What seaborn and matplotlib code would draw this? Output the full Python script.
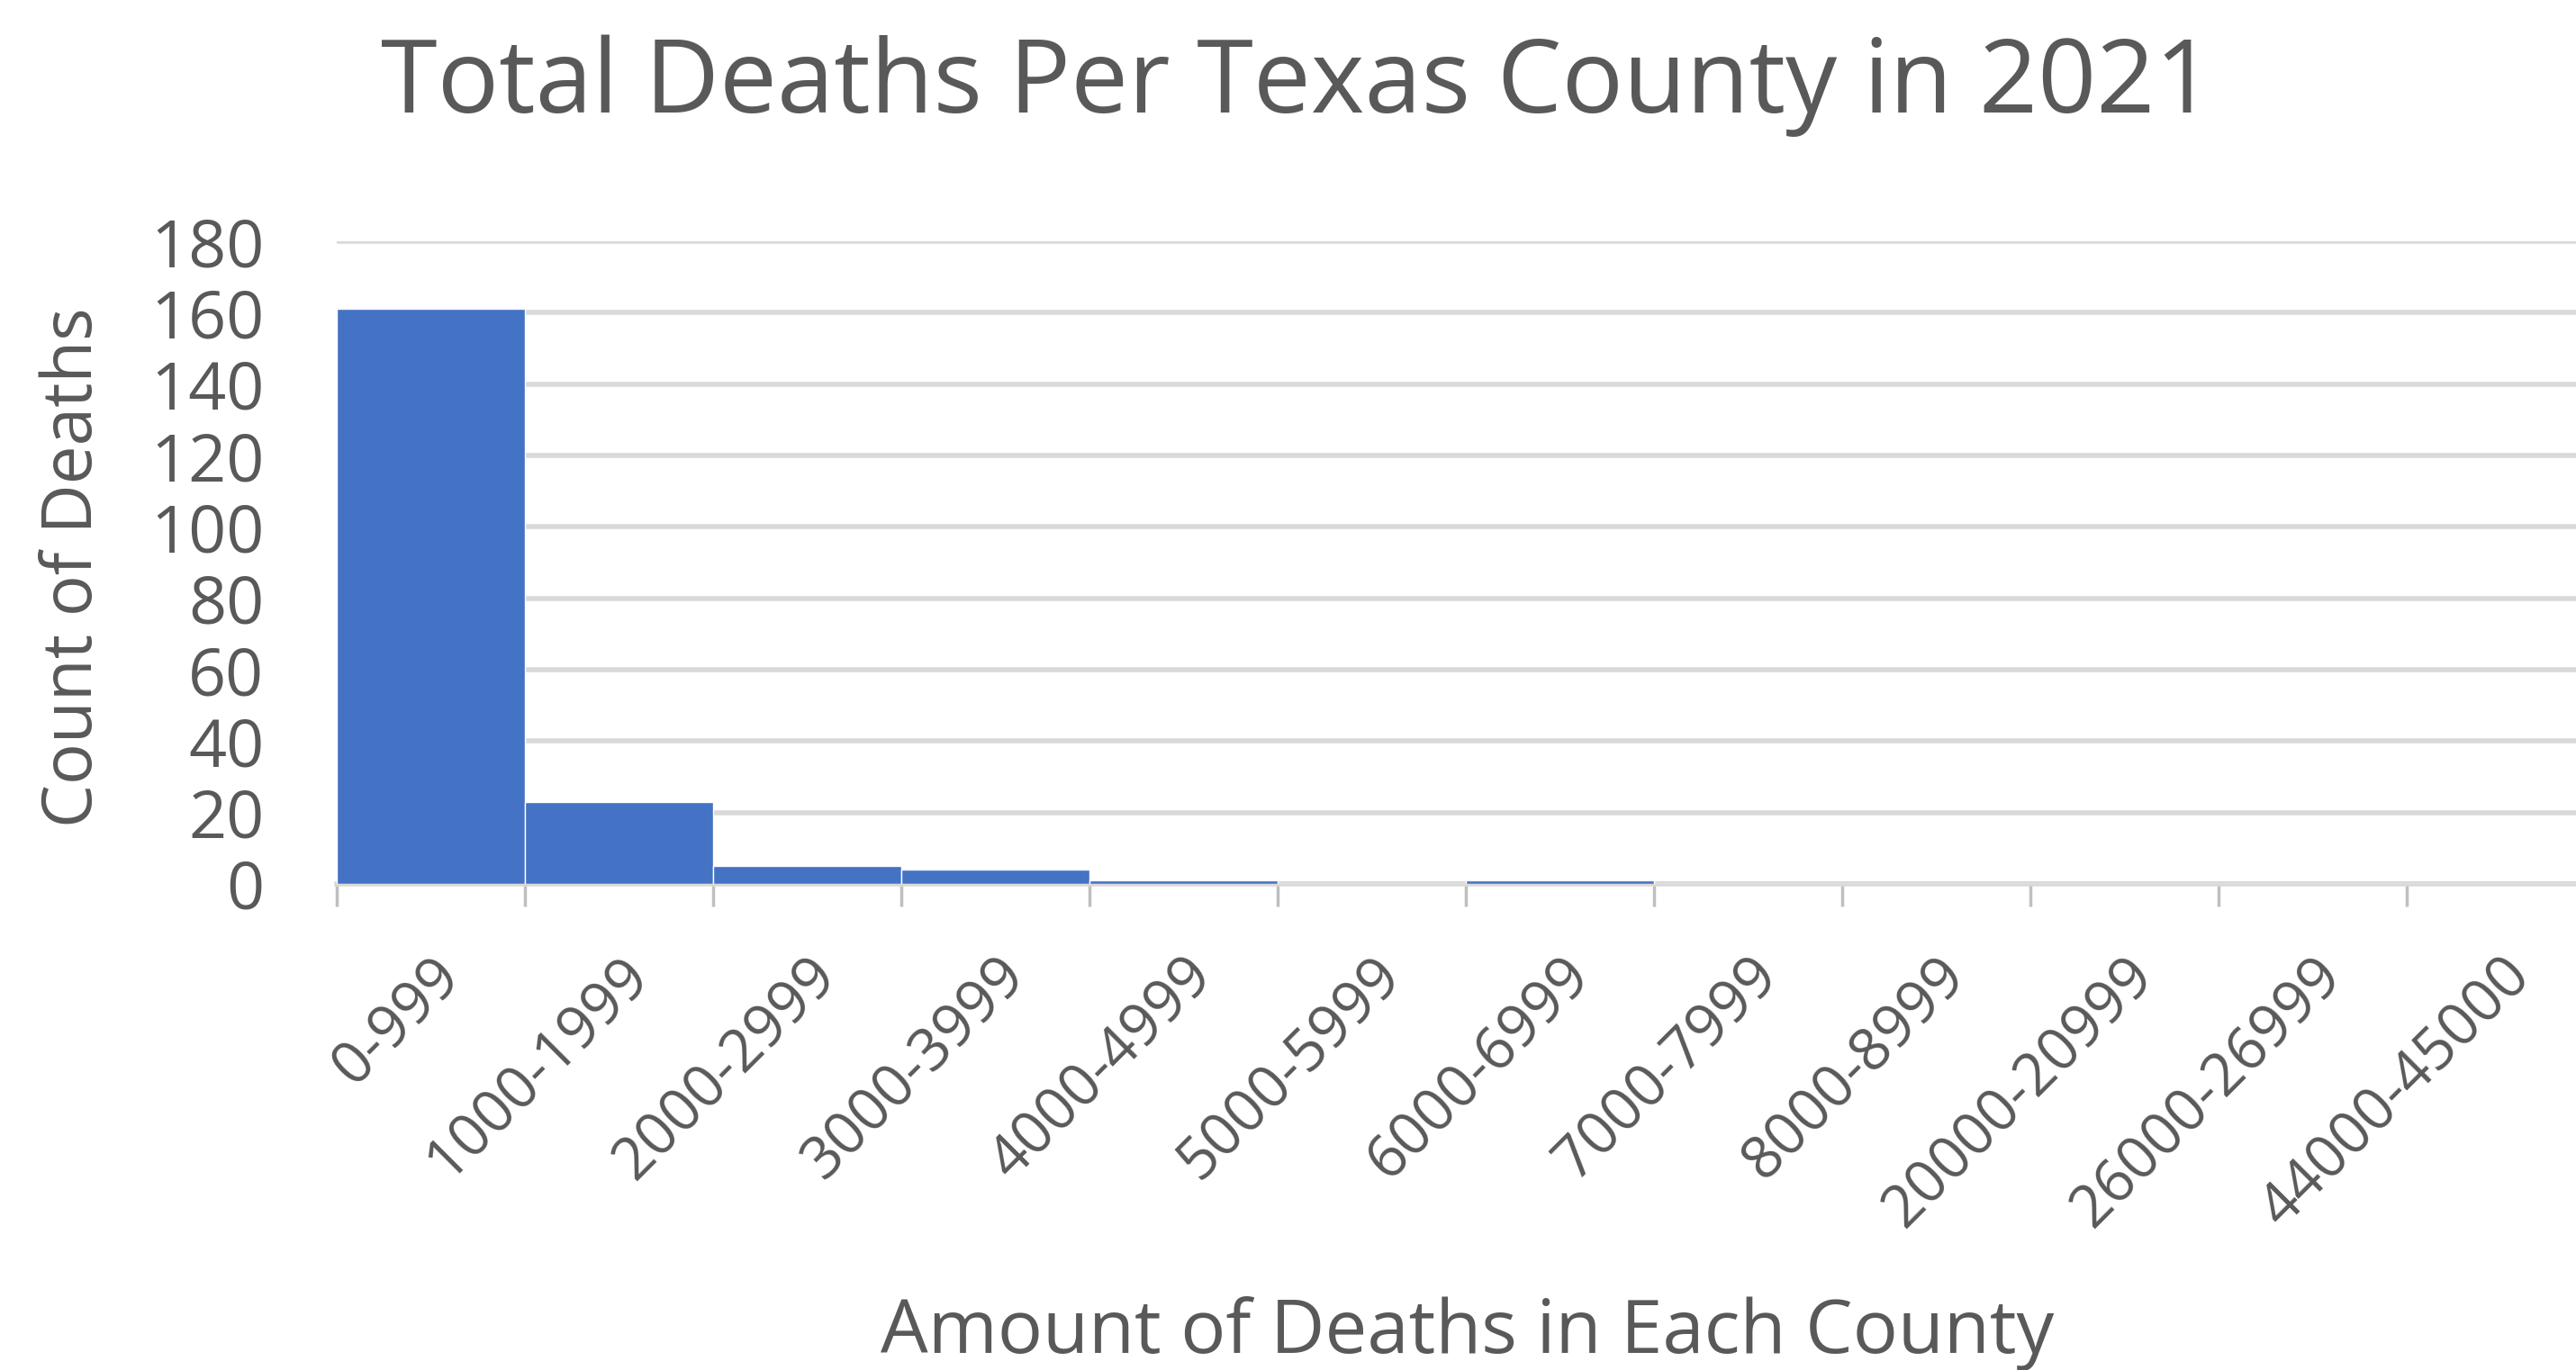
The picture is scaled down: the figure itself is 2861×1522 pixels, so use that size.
import matplotlib
matplotlib.use("Agg")
import matplotlib.pyplot as plt
import seaborn as sns
import pandas as pd

categories = ["0-999", "1000-1999", "2000-2999", "3000-3999", "4000-4999",
              "5000-5999", "6000-6999", "7000-7999", "8000-8999",
              "20000-20999", "26000-26999", "44000-45000"]
counts = [161, 23, 5, 4, 1, 0, 1, 0, 0, 0, 0, 0]
y_ticks = [0, 20, 40, 60, 80, 100, 120, 140, 160, 180]

title = "Total Deaths Per Texas County in 2021"
x_label = "Amount of Deaths in Each County"
y_label = "Count of Deaths"

sns.set_theme(style="white")
plt.rcParams["font.family"] = ["Open Sans", "DejaVu Sans"]

text_color = "#595959"
grid_color = "#D9D9D9"
bar_color = "#4472C4"

df = pd.DataFrame({"range": categories, "count": counts})

fig = plt.figure(figsize=(28.61, 15.22), dpi=100)
ax = fig.add_axes([0.1307, 0.3548, 0.8766, 0.4691])

sns.barplot(data=df, x="range", y="count", color=bar_color, width=1.0,
            saturation=1.0, ax=ax, zorder=3)

ax.set_xlim(-0.5, len(categories) - 0.5)
ax.set_ylim(0, 180)
ax.set_yticks(y_ticks)
ax.set_yticklabels([str(v) for v in y_ticks], fontsize=53, color=text_color)
ax.yaxis.grid(True, color=grid_color, linewidth=4, zorder=0)
ax.set_axisbelow(True)

for s in ["top", "right", "left"]:
    ax.spines[s].set_visible(False)
ax.spines["bottom"].set_color(grid_color)
ax.spines["bottom"].set_linewidth(4)

# category-boundary tick marks
ax.set_xticks([i - 0.5 for i in range(len(categories) + 1)], minor=True)
ax.tick_params(axis="x", which="minor", length=18, width=2.5, color="#BFBFBF",
               bottom=True)
ax.tick_params(axis="x", which="major", length=0, pad=50)
ax.tick_params(axis="y", length=0, pad=58)
ax.set_xticks(range(len(categories)))
ax.set_xticklabels(categories, rotation=45, ha="right", rotation_mode="anchor",
                   fontsize=47, color=text_color)

ax.set_xlabel(x_label, fontsize=60, color=text_color)
ax.set_ylabel(y_label, fontsize=55, color=text_color)
ax.xaxis.label.set_va("center")
ax.yaxis.label.set_va("center")
ax.xaxis.set_label_coords((1630 - 374) / 2508, -(1482 - 982) / 714)
ax.yaxis.set_label_coords(-(374 - 82) / 2508, (982 - 630) / 714)

fig.text(1441 / 2861, 1 - 95 / 1522, title, fontsize=82, color=text_color,
         ha="center", va="center")

fig.savefig("out.png", dpi=100)
